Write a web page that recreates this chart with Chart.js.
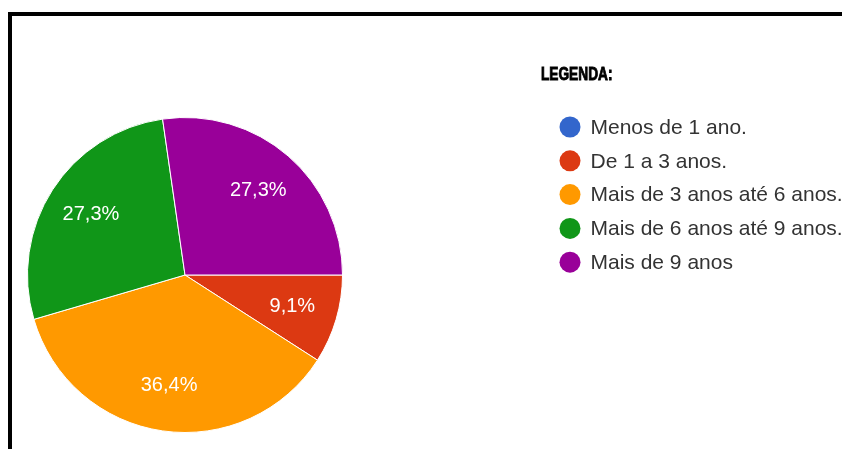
<!DOCTYPE html>
<html>
<head>
<meta charset="utf-8">
<script src="https://cdn.jsdelivr.net/npm/chart.js@4.4.1/dist/chart.umd.min.js"></script>
<style>
    html, body { margin: 0; padding: 0; background: #fff; }
    #wrap { position: relative; width: 842px; height: 449px; overflow: hidden; }
    #frame { position: absolute; left: 8px; top: 12px; width: 900px; height: 500px;
             border-top: 4px solid #000; border-left: 4px solid #000; }
    #pieChart { position: absolute; left: 0; top: 0; }
</style>
</head>
<body>
<div id="wrap">
    <div id="frame"></div>
    <canvas id="pieChart" width="842" height="449"></canvas>
</div>
<script>
    // Categorias e respostas
    const categorias = [
        "Menos de 1 ano.",
        "De 1 a 3 anos.",
        "Mais de 3 anos até 6 anos.",
        "Mais de 6 anos até 9 anos.",
        "Mais de 9 anos"
    ];
    const respostas = [0, 1, 4, 3, 3];
    const cores = ["#3366cc", "#dc3912", "#ff9900", "#109618", "#990099"];
    const tituloLegenda = "LEGENDA:";

    // Percentagens dentro das fatias
    const rotulosFatias = {
        id: 'rotulosFatias',
        afterDatasetsDraw(chart) {
            const ctx = chart.ctx;
            const meta = chart.getDatasetMeta(0);
            const dados = chart.data.datasets[0].data;
            const total = dados.reduce((a, b) => a + b, 0);
            ctx.save();
            ctx.fillStyle = '#fff';
            ctx.font = '20px "Liberation Sans", Arial, sans-serif';
            ctx.textAlign = 'center';
            ctx.textBaseline = 'middle';
            meta.data.forEach((arc, i) => {
                if (!dados[i]) return;
                const p = arc.getProps(['x', 'y', 'startAngle', 'endAngle', 'outerRadius'], true);
                const meio = (p.startAngle + p.endAngle) / 2;
                const r = p.outerRadius * 0.71;
                const texto = (dados[i] / total * 100).toFixed(1).replace('.', ',') + '%';
                ctx.fillText(texto, p.x + Math.cos(meio) * r, p.y + Math.sin(meio) * r);
            });
            ctx.restore();
        }
    };

    // Legenda à direita
    const legendaLateral = {
        id: 'legendaLateral',
        afterDraw(chart, args, opts) {
            const ctx = chart.ctx;
            const cor = chart.data.datasets[0].backgroundColor;
            ctx.save();
            // titulo em negrito, estreito e pesado
            ctx.save();
            ctx.translate(opts.tituloX, opts.tituloY);
            ctx.scale(0.76, 1);
            ctx.fillStyle = '#000';
            ctx.strokeStyle = '#000';
            ctx.lineWidth = 0.9;
            ctx.font = 'bold 18px "Liberation Sans", Arial, sans-serif';
            ctx.textBaseline = 'alphabetic';
            ctx.fillText(tituloLegenda, 0, 0);
            ctx.strokeText(tituloLegenda, 0, 0);
            ctx.restore();

            ctx.font = '21px "Liberation Sans", Arial, sans-serif';
            ctx.textBaseline = 'middle';
            chart.data.labels.forEach((label, i) => {
                const y = opts.itemY + i * opts.passo;
                ctx.beginPath();
                ctx.arc(opts.itemX, y, opts.raio, 0, Math.PI * 2);
                ctx.fillStyle = cor[i];
                ctx.fill();
                ctx.fillStyle = '#333';
                ctx.fillText(label, opts.itemX + opts.raio + 10, y + 1);
            });
            ctx.restore();
        }
    };

    const ctx = document.getElementById('pieChart').getContext('2d');
    new Chart(ctx, {
        type: 'pie',
        data: {
            labels: categorias,
            datasets: [{
                data: respostas,
                backgroundColor: cores,
                borderColor: '#fff',
                borderWidth: 1
            }]
        },
        options: {
            responsive: false,
            animation: false,
            rotation: 90,
            layout: {
                padding: { left: 27, top: 117, right: 499, bottom: 16 }
            },
            plugins: {
                legend: { display: false },
                tooltip: { enabled: false },
                legendaLateral: {
                    tituloX: 541, tituloY: 80,
                    itemX: 570, itemY: 127, passo: 33.8, raio: 10.5
                }
            }
        },
        plugins: [rotulosFatias, legendaLateral]
    });
</script>
</body>
</html>
